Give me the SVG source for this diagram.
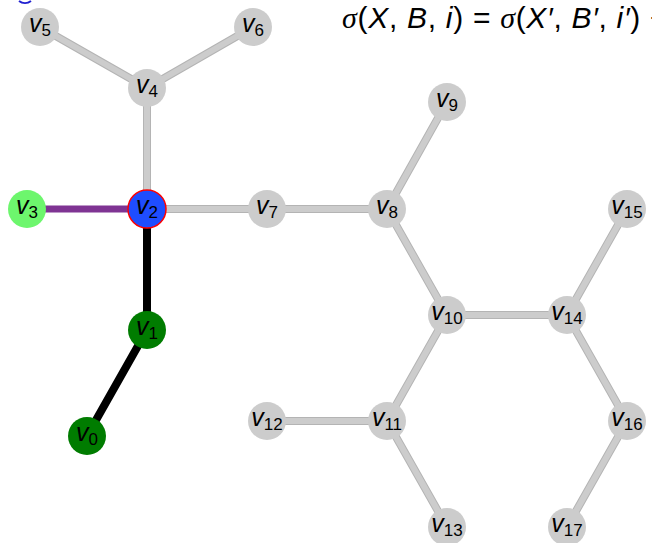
<svg xmlns="http://www.w3.org/2000/svg" width="652" height="543" viewBox="0 0 652 543">
<style>
.e{stroke:#b4b4b4;stroke-width:8;fill:none}
.ei{stroke:#cccccc;stroke-width:6;fill:none}
.n{fill:#cccccc}
.lb{font-family:"Liberation Sans",Arial,sans-serif;font-size:25px;fill:#000;text-anchor:middle}
.v{font-style:italic}
.s{font-size:17px}
.f{font-family:"Liberation Sans",Arial,sans-serif;font-size:30px;fill:#000;letter-spacing:0.7px}
</style>
<rect width="652" height="543" fill="#fff"/>
<path d="M19,1 A10,10 0 0 0 31,1" stroke="#2020d0" stroke-width="2" fill="none"/>
<text class="f" x="342" y="28"><tspan font-family="Liberation Serif" font-style="italic">σ</tspan>(<tspan font-style="italic">X</tspan>, <tspan font-style="italic">B</tspan>, <tspan font-style="italic">i</tspan>) = <tspan font-family="Liberation Serif" font-style="italic">σ</tspan>(<tspan font-style="italic">X′</tspan>, <tspan font-style="italic">B′</tspan>, <tspan font-style="italic">i′</tspan>) +</text>
<g id="edges">
<g class="e">
<path d="M40,27L147,88M253,27L147,88M147,88L147,209M147,209L387,209M387,209L447,102M387,209L447,315M447,315L567,315M567,315L627,209M567,315L627,421M627,421L567,527M447,315L387,421M387,421L267,421M387,421L447,527"/>
</g>
<g class="ei">
<path d="M40,27L147,88M253,27L147,88M147,88L147,209M147,209L387,209M387,209L447,102M387,209L447,315M447,315L567,315M567,315L627,209M567,315L627,421M627,421L567,527M447,315L387,421M387,421L267,421M387,421L447,527"/>
</g>
<path d="M27,209L147,209" stroke="#7f3493" stroke-width="7"/>
<path d="M147,209L147,330L87,436" stroke="#000" stroke-width="8" fill="none"/>
</g>
<g id="v0"><circle cx="87" cy="436" r="19" fill="#007c00"/><text class="lb" x="87" y="441"><tspan class="v">v</tspan><tspan class="s" dy="4">0</tspan></text></g>
<g id="v1"><circle cx="147" cy="330" r="19" fill="#007c00"/><text class="lb" x="147" y="335"><tspan class="v">v</tspan><tspan class="s" dy="4">1</tspan></text></g>
<g id="v2"><circle cx="147" cy="209" r="19" fill="#1f4dff" stroke="#ff0000" stroke-width="1.5"/><text class="lb" x="147" y="214"><tspan class="v">v</tspan><tspan class="s" dy="4">2</tspan></text></g>
<g id="v3"><circle cx="27" cy="209" r="19" fill="#6df66d"/><text class="lb" x="27" y="214"><tspan class="v">v</tspan><tspan class="s" dy="4">3</tspan></text></g>
<g id="v4"><circle class="n" cx="147" cy="88" r="19"/><text class="lb" x="147" y="93"><tspan class="v">v</tspan><tspan class="s" dy="4">4</tspan></text></g>
<g id="v5"><circle class="n" cx="40" cy="27" r="19"/><text class="lb" x="40" y="32"><tspan class="v">v</tspan><tspan class="s" dy="4">5</tspan></text></g>
<g id="v6"><circle class="n" cx="253" cy="27" r="19"/><text class="lb" x="253" y="32"><tspan class="v">v</tspan><tspan class="s" dy="4">6</tspan></text></g>
<g id="v7"><circle class="n" cx="267" cy="209" r="19"/><text class="lb" x="267" y="214"><tspan class="v">v</tspan><tspan class="s" dy="4">7</tspan></text></g>
<g id="v8"><circle class="n" cx="387" cy="209" r="19"/><text class="lb" x="387" y="214"><tspan class="v">v</tspan><tspan class="s" dy="4">8</tspan></text></g>
<g id="v9"><circle class="n" cx="447" cy="102" r="19"/><text class="lb" x="447" y="107"><tspan class="v">v</tspan><tspan class="s" dy="4">9</tspan></text></g>
<g id="v10"><circle class="n" cx="447" cy="315" r="19"/><text class="lb" x="447" y="320"><tspan class="v">v</tspan><tspan class="s" dy="4">10</tspan></text></g>
<g id="v11"><circle class="n" cx="387" cy="421" r="19"/><text class="lb" x="387" y="426"><tspan class="v">v</tspan><tspan class="s" dy="4">11</tspan></text></g>
<g id="v12"><circle class="n" cx="267" cy="421" r="19"/><text class="lb" x="267" y="426"><tspan class="v">v</tspan><tspan class="s" dy="4">12</tspan></text></g>
<g id="v13"><circle class="n" cx="447" cy="527" r="19"/><text class="lb" x="447" y="532"><tspan class="v">v</tspan><tspan class="s" dy="4">13</tspan></text></g>
<g id="v14"><circle class="n" cx="567" cy="315" r="19"/><text class="lb" x="567" y="320"><tspan class="v">v</tspan><tspan class="s" dy="4">14</tspan></text></g>
<g id="v15"><circle class="n" cx="627" cy="209" r="19"/><text class="lb" x="627" y="214"><tspan class="v">v</tspan><tspan class="s" dy="4">15</tspan></text></g>
<g id="v16"><circle class="n" cx="627" cy="421" r="19"/><text class="lb" x="627" y="426"><tspan class="v">v</tspan><tspan class="s" dy="4">16</tspan></text></g>
<g id="v17"><circle class="n" cx="567" cy="527" r="19"/><text class="lb" x="567" y="532"><tspan class="v">v</tspan><tspan class="s" dy="4">17</tspan></text></g>
</svg>
